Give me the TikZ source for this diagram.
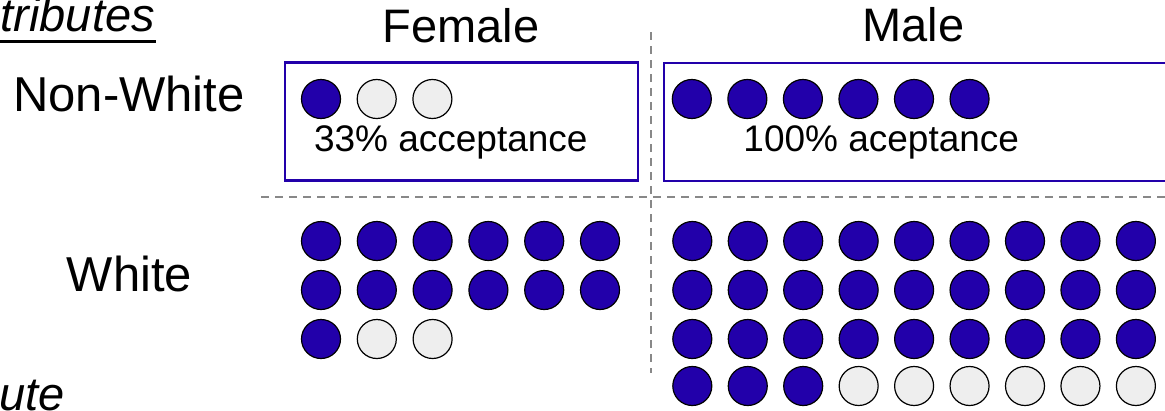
\documentclass[tikz,border=0pt]{standalone}
\usepackage{fontspec}
\setmainfont{Liberation Sans}
\definecolor{accblue}{RGB}{34,0,170}
\definecolor{rejgray}{RGB}{238,238,238}
\definecolor{divgray}{RGB}{136,136,136}
\begin{document}
\begin{tikzpicture}[x=1pt,y=-1pt,
  acc/.style={circle,draw=black,line width=1.2pt,fill=accblue,minimum size=39pt,inner sep=0pt},
  rej/.style={acc,fill=rejgray},
  grpbox/.style={rectangle,draw=accblue,line width=2.6pt,inner sep=0pt,anchor=north west},
  divider/.style={draw=divgray,line width=2pt,dash pattern=on 8pt off 6pt},
  biglabel/.style={font=\fontsize{47}{56}\selectfont,inner sep=0pt,anchor=base},
  rowlabel/.style={font=\fontsize{49}{58}\selectfont,inner sep=0pt,anchor=base},
  smalllabel/.style={font=\fontsize{37}{44}\selectfont,inner sep=0pt,anchor=base}]
\useasboundingbox (0,0) rectangle (1165,410);
\clip (0,0) rectangle (1165,410);
\fill[white] (0,0) rectangle (1165,410);

% dividers
\draw[divider] (261,196.5) -- (1165,196.5);
\draw[divider] (650.5,32) -- (650.5,373);

% group boxes (non-white row)
\node[grpbox,minimum width=353pt,minimum height=118pt] (fbox) at (283.5,61) {};
\node[grpbox,minimum width=530pt,minimum height=118pt] (mbox) at (662.7,61.5) {};

% headings
\node[biglabel] (female) at (461,42.5) {Female};
\node[biglabel] (male) at (913.5,41.7) {Male};
\node[rowlabel] (nonwhite) at (129,111.7) {Non-White};
\node[rowlabel] (white) at (129.5,291.7) {White};
\node[biglabel,anchor=base east,font=\fontsize{47}{56}\selectfont\itshape] (attrs) at (155,31.5) {tributes};
\draw[line width=3pt] ([yshift=-10.2pt]attrs.base west) -- ([yshift=-10.2pt,xshift=1pt]attrs.base east);
\node[biglabel,anchor=base west,font=\fontsize{47}{56}\selectfont\itshape] (attr) at (-1,410) {ute};

% acceptance texts
\node[smalllabel] (ftxt) at (450.8,151.7) {33\% acceptance};
\node[smalllabel] (mtxt) at (881.3,151.7) {100\% aceptance};

% female non-white
\node[acc] (fn1) at (321,99) {};
\node[rej] (fn2) at (376.7,99) {};
\node[rej] (fn3) at (432.4,99) {};

% male non-white
\foreach \i in {0,...,5}
  \node[acc] (mn\i) at ({691.8+55.55*\i},99) {};

% female white
\foreach \r/\y in {1/241,2/290}
  \foreach \i in {0,...,5}
    \node[acc] (fw\r-\i) at ({321+55.8*\i},\y) {};
\node[acc] (fw3-0) at (321,339) {};
\node[rej] (fw3-1) at (376.8,339) {};
\node[rej] (fw3-2) at (432.6,339) {};

% male white
\foreach \r/\y in {1/241,2/290,3/339}
  \foreach \i in {0,...,8}
    \node[acc] (mw\r-\i) at ({692.3+55.45*\i},\y) {};
\foreach \i in {0,...,2}
  \node[acc] (mw4-\i) at ({692.3+55.45*\i},386) {};
\foreach \i in {3,...,8}
  \node[rej] (mw4-\i) at ({692.3+55.45*\i},386) {};
\end{tikzpicture}
\end{document}
